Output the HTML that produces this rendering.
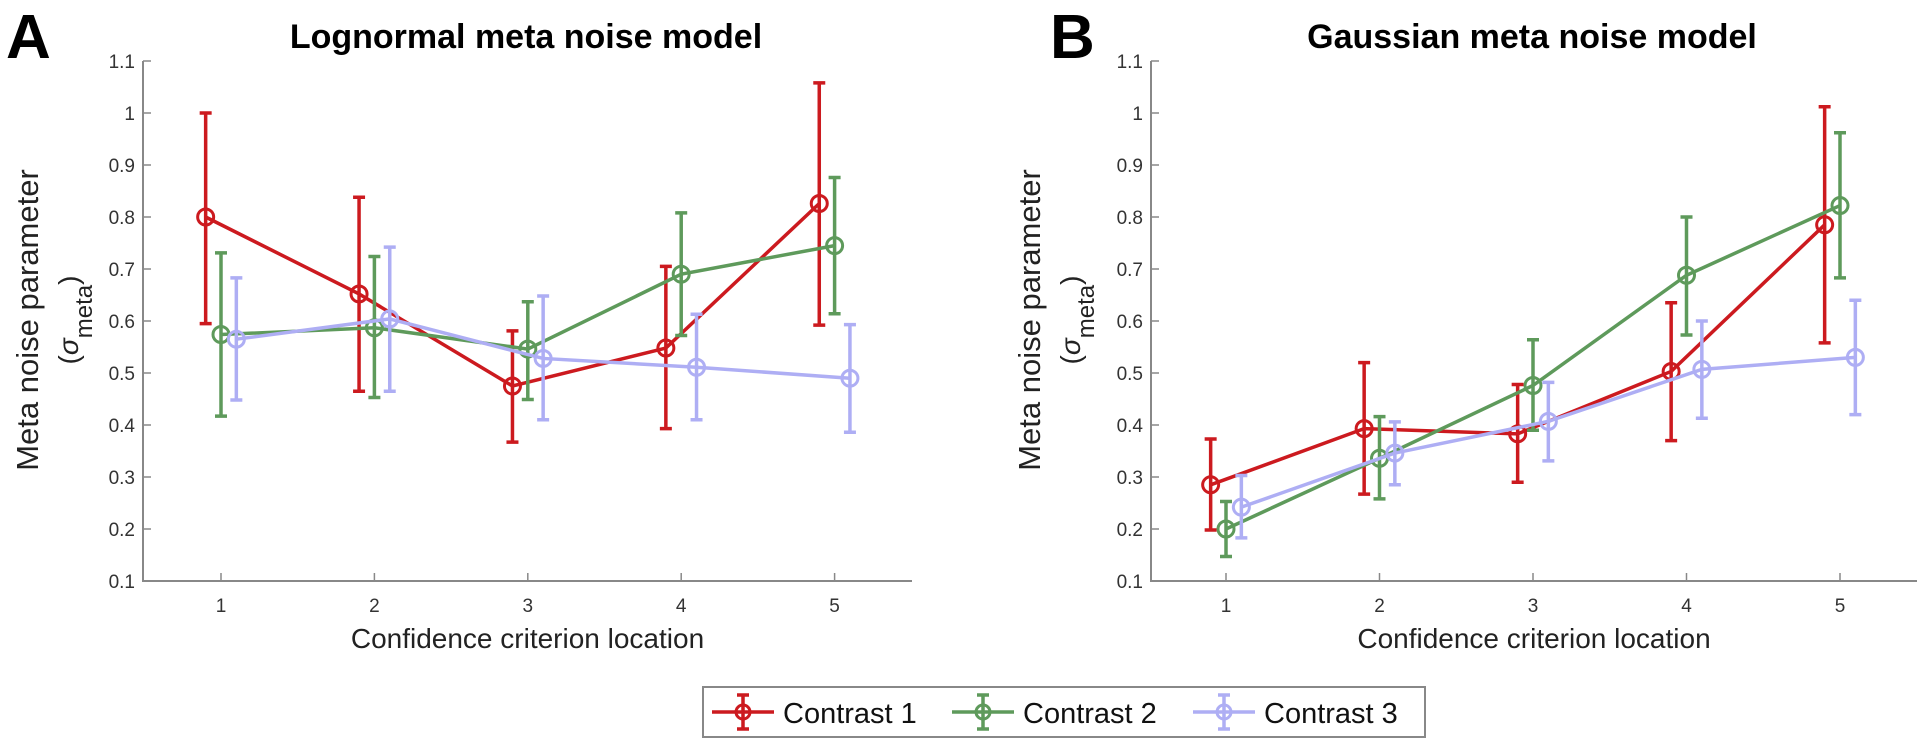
<!DOCTYPE html>
<html><head><meta charset="utf-8"><style>
body{margin:0;background:#fff}
svg{display:block}
text{font-family:"Liberation Sans",sans-serif}
</style></head><body>
<svg id="chart" width="1920" height="742" viewBox="0 0 1920 742" xmlns="http://www.w3.org/2000/svg">
<rect width="1920" height="742" fill="#fff"/>
<g id="root"></g>
</svg>
<script>
const categories = [1, 2, 3, 4, 5];
const yTicks = [0.1, 0.2, 0.3, 0.4, 0.5, 0.6, 0.7, 0.8, 0.9, 1, 1.1];
const yTickLabels = ["0.1","0.2","0.3","0.4","0.5","0.6","0.7","0.8","0.9","1","1.1"];
const seriesNames = ["Contrast 1", "Contrast 2", "Contrast 3"];
// Panel A (lognormal)
const aC1 = [0.80, 0.652, 0.475, 0.548, 0.826];
const aC1Lo = [0.595, 0.465, 0.367, 0.393, 0.592];
const aC1Hi = [1.0, 0.838, 0.581, 0.705, 1.058];
const aC2 = [0.574, 0.587, 0.546, 0.69, 0.745];
const aC2Lo = [0.417, 0.453, 0.449, 0.572, 0.614];
const aC2Hi = [0.731, 0.724, 0.637, 0.808, 0.876];
const aC3 = [0.565, 0.604, 0.528, 0.511, 0.49];
const aC3Lo = [0.448, 0.465, 0.41, 0.41, 0.386];
const aC3Hi = [0.683, 0.742, 0.648, 0.613, 0.593];
// Panel B (gaussian)
const bC1 = [0.285, 0.393, 0.383, 0.503, 0.785];
const bC1Lo = [0.198, 0.267, 0.29, 0.37, 0.558];
const bC1Hi = [0.373, 0.52, 0.478, 0.635, 1.012];
const bC2 = [0.2, 0.336, 0.476, 0.688, 0.822];
const bC2Lo = [0.147, 0.258, 0.39, 0.573, 0.683];
const bC2Hi = [0.253, 0.416, 0.564, 0.8, 0.962];
const bC3 = [0.242, 0.346, 0.407, 0.507, 0.53];
const bC3Lo = [0.183, 0.285, 0.331, 0.413, 0.42];
const bC3Hi = [0.303, 0.406, 0.482, 0.6, 0.64];

const colors = ["#cc1a1f", "#5e9a5b", "#aeaef4"];
const offsets = [-0.1, 0, 0.1];
const NS = "http://www.w3.org/2000/svg";
const root = document.getElementById("root");
function mk(tag, attrs, parent){const e=document.createElementNS(NS,tag);for(const k in attrs)e.setAttribute(k,attrs[k]);(parent||root).appendChild(e);return e;}

function panel(p){
  const g = mk("g",{});
  
  
  const xs = v => p.x1 + (v-1)*p.dx;
  const ys = v => 581 - (v-0.1)*520;
  // axes
  const ax = mk("path",{d:`M${p.ax} ${ys(1.1)} L${p.ax} ${ys(0.1)} L${p.axR} ${ys(0.1)}`,stroke:"#888",fill:"none","stroke-width":2},g);
  
  
  yTicks.forEach((t,i)=>{
    mk("line",{x1:p.ax,x2:p.ax+8,y1:ys(t),y2:ys(t),stroke:"#888","stroke-width":1.5},g);
    const tx = mk("text",{x:p.ax-8,y:ys(t)+7,"text-anchor":"end","font-size":19,fill:"#333"},g);
    tx.textContent = yTickLabels[i];
    
    
  });
  categories.forEach(c=>{
    mk("line",{x1:xs(c),x2:xs(c),y1:ys(0.1),y2:ys(0.1)-8,stroke:"#888","stroke-width":1.5},g);
    const tx = mk("text",{x:xs(c),y:612,"text-anchor":"middle","font-size":19,fill:"#333"},g);
    tx.textContent = String(c);
    
    
  });
  p.series.forEach((s,si)=>{
    const col = colors[si];
    const sg = mk("g",{},g);
    
    
    const pts = s.v.map((v,i)=>[xs(categories[i]+offsets[si]), ys(v)]);
    mk("polyline",{points:pts.map(q=>q.join(",")).join(" "),fill:"none",stroke:col,"stroke-width":3.5},sg);
    s.v.forEach((v,i)=>{
      const x = pts[i][0];
      mk("path",{d:`M${x} ${ys(s.lo[i])} L${x} ${ys(s.hi[i])} M${x-6} ${ys(s.lo[i])} L${x+6} ${ys(s.lo[i])} M${x-6} ${ys(s.hi[i])} L${x+6} ${ys(s.hi[i])}`,stroke:col,"stroke-width":3.5,fill:"none"},sg);
      const c = mk("circle",{cx:x,cy:ys(v),r:8,fill:"none",stroke:col,"stroke-width":3},sg);
      
      
    });
  });
  const t = mk("text",{x:p.tx,y:48,"text-anchor":"middle","font-size":34,"font-weight":"bold",fill:"#000"},g);
  t.textContent = p.title;
  
  
  const L = mk("text",{x:p.lx,y:58,"font-size":62,"font-weight":"bold",fill:"#000"},g);
  L.textContent = p.letter;
  
  
  const xl = mk("text",{x:(p.ax+p.axR)/2,y:648,"text-anchor":"middle","font-size":28,fill:"#222"},g);
  xl.textContent = "Confidence criterion location";
  
  
  const yl = mk("text",{transform:`translate(${p.ylx},320) rotate(-90)`,"text-anchor":"middle","font-size":31,fill:"#222"},g);
  yl.textContent = "Meta noise parameter";
  
  
  const y2 = mk("text",{transform:`translate(${p.ylx+40},320) rotate(-90)`,"text-anchor":"middle","font-size":28,fill:"#222"},g);
  y2.innerHTML = '(<tspan font-style="italic">σ</tspan><tspan font-size="24" dy="14">meta</tspan><tspan dy="-14">)</tspan>';
  
  
}
panel({name:"panel-a-lognormal",ax:143,axR:912,x1:221,dx:153.4,tx:526,lx:6,ylx:38,letter:"A",title:"Lognormal meta noise model",
  series:[{v:aC1,lo:aC1Lo,hi:aC1Hi},{v:aC2,lo:aC2Lo,hi:aC2Hi},{v:aC3,lo:aC3Lo,hi:aC3Hi}]});
panel({name:"panel-b-gaussian",ax:1151,axR:1917,x1:1226,dx:153.5,tx:1532,lx:1050,ylx:1040,letter:"B",title:"Gaussian meta noise model",
  series:[{v:bC1,lo:bC1Lo,hi:bC1Hi},{v:bC2,lo:bC2Lo,hi:bC2Hi},{v:bC3,lo:bC3Lo,hi:bC3Hi}]});

// legend
const lg = mk("g",{});


mk("rect",{x:703,y:687,width:722,height:50,fill:"#fff",stroke:"#888","stroke-width":2},lg);
const lx0 = [712, 952, 1193];
seriesNames.forEach((n,i)=>{
  const e = mk("g",{},lg);
  
  
  const x0 = lx0[i], cx = x0+31, col = colors[i];
  mk("path",{d:`M${x0} 712 L${x0+62} 712 M${cx} 695 L${cx} 729 M${cx-6} 695 L${cx+6} 695 M${cx-6} 729 L${cx+6} 729`,stroke:col,"stroke-width":3.5,fill:"none"},e);
  mk("circle",{cx:cx,cy:712,r:7,fill:"none",stroke:col,"stroke-width":3},e);
  const t = mk("text",{x:x0+71,y:723,"font-size":29,fill:"#111"},e);
  t.textContent = n;
});
</script>
</body></html>
